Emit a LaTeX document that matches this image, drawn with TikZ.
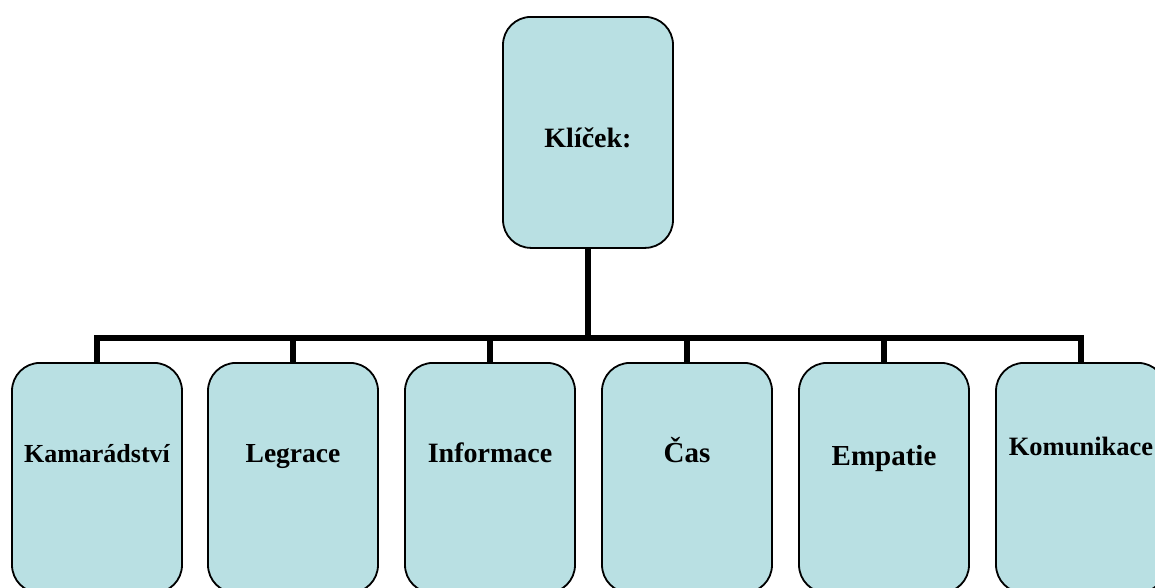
\documentclass[tikz,border=0pt]{standalone}
\usepackage{fontspec}
\setmainfont{Liberation Serif}
\definecolor{boxblue}{RGB}{185,224,227}

\begin{document}
\begin{tikzpicture}[x=1pt,y=-1pt,
        box/.style={draw, line width=1.8pt, fill=boxblue, rounded corners=28pt, minimum width=170pt, inner sep=0pt, anchor=north, font=\bfseries\fontsize{28}{30}\selectfont},
        leaf/.style={box, text height=100pt, text depth=130pt},
        conn/.style={line width=5.5pt}]
        \useasboundingbox (0,0) rectangle (1155,587);
        \clip (0,0) rectangle (1155,587);
        \node[box, text height=131pt, text depth=100pt] (klicek) at (588,16) {Klíček:};   % root
        \node[leaf, font=\bfseries\fontsize{26}{28}\selectfont] (kamaradstvi) at (97,362) {Kamarádství};
        \node[leaf, font=\bfseries\fontsize{27.5}{29}\selectfont] (legrace) at (293,362) {Legrace};
        \node[leaf] (informace) at (490,362) {Informace};
        \node[leaf, font=\bfseries\fontsize{29}{31}\selectfont] (cas) at (687,362) {Čas};
        \node[leaf, font=\bfseries\fontsize{29}{31}\selectfont, text height=103pt, text depth=127pt] (empatie) at (884,362) {Empatie};
        \node[leaf, font=\bfseries\fontsize{26.5}{28}\selectfont, text height=93pt, text depth=137pt] (komunikace) at (1081,362) {Komunikace};
        \coordinate (bar) at (588,338);
        \draw[conn] (klicek.south) -- (bar) -| (kamaradstvi.north);
        \draw[conn] (bar) -| (legrace.north);
        \draw[conn] (bar) -| (informace.north);
        \draw[conn] (bar) -| (cas.north);
        \draw[conn] (bar) -| (empatie.north);
        \draw[conn] (bar) -| (komunikace.north);
    \end{tikzpicture}
\end{document}
